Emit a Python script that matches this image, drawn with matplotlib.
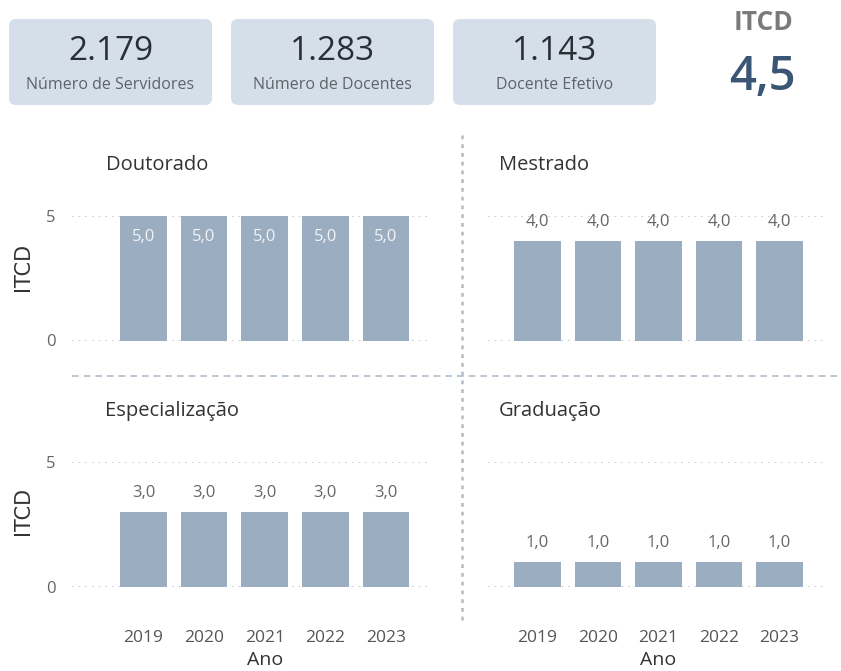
import matplotlib.pyplot as plt
from matplotlib.patches import FancyBboxPatch

# dados
anos = ['2019', '2020', '2021', '2022', '2023']
doutorado = [5.0, 5.0, 5.0, 5.0, 5.0]
mestrado = [4.0, 4.0, 4.0, 4.0, 4.0]
especializacao = [3.0, 3.0, 3.0, 3.0, 3.0]
graduacao = [1.0, 1.0, 1.0, 1.0, 1.0]

kpi_valores = ['2.179', '1.283', '1.143']
kpi_rotulos = ['Número de Servidores', 'Número de Docentes', 'Docente Efetivo']
itcd_geral = '4,5'

W, H = 841, 671
BAR = '#9aadc1'
FONT = 'Open Sans'

plt.rcParams['font.family'] = [FONT, 'DejaVu Sans']

fig = plt.figure(figsize=(W / 100, H / 100), dpi=100)

# camada de fundo em pixels
bg = fig.add_axes([0, 0, 1, 1])
bg.set_xlim(0, W)
bg.set_ylim(H, 0)
bg.axis('off')

card_x = [9, 231, 453]
for x0, val, lab in zip(card_x, kpi_valores, kpi_rotulos):
    bg.add_patch(FancyBboxPatch((x0, 19), 203, 86,
                                boxstyle='round,pad=0,rounding_size=7',
                                fc='#d5dfea', ec='none'))
    bg.text(x0 + 101.5, 51, val, ha='center', va='center', fontsize=24, color='#2a2f36')
    bg.text(x0 + 101.5, 85, lab, ha='center', va='center', fontsize=11.5, color='#5f6368')

bg.text(764, 22, 'ITCD', ha='center', va='center', fontsize=19, fontweight='bold', color='#7a7a7a')
bg.text(762, 77, itcd_geral, ha='center', va='center', fontsize=34, fontweight='semibold', color='#3b5575')

# separadores
bg.plot([72, W], [376, 376], ls=(0, (4, 3)), color='#aebccc', lw=1.2)
bg.plot([462, 462], [135, 620], ls=(0, (1.5, 2)), color='#aebccc', lw=1.8)


def painel(x0, x1, ytop, ybot, c0, step, titulo, tx, ty, valores, dentro, esquerda, baixo):
    ax = fig.add_axes([x0 / W, 1 - ybot / H, (x1 - x0) / W, (ybot - ytop) / H])
    ax.patch.set_alpha(0)
    xs = range(len(valores))
    ax.bar(xs, valores, width=0.77, color=BAR, zorder=2)
    ax.set_xlim((x0 - c0) / step, (x1 - c0) / step)
    ax.set_ylim(0, 5)
    for s in ax.spines.values():
        s.set_visible(False)
    ax.set_yticks([0, 5])
    ax.yaxis.grid(True, ls=(0, (1, 3)), color='#c4c4c4', lw=1.2, zorder=0)
    ax.tick_params(length=0)
    if esquerda:
        ax.set_yticklabels(['0', '5'], fontsize=12, color='#666666')
        ax.tick_params(axis='y', pad=12)
    else:
        ax.set_yticklabels([])
    if baixo:
        ax.set_xticks(list(xs))
        ax.set_xticklabels(anos, fontsize=12.5, color='#555555')
        ax.tick_params(axis='x', pad=31)
    else:
        ax.set_xticks([])
    for x, v in zip(xs, valores):
        txt = f'{v:.1f}'.replace('.', ',')
        if dentro:
            ax.annotate(txt, (x, v), xytext=(0, -15), textcoords='offset points',
                        ha='center', va='center', fontsize=12, color='#f2f4f6')
        else:
            ax.annotate(txt, (x, v), xytext=(0, 13.5), textcoords='offset points',
                        ha='center', va='center', fontsize=12, color='#666666')
    bg.text(tx, ty, titulo, ha='left', va='center', fontsize=14.5, color='#333333')
    return ax


painel(72, 430, 216, 340.5, 143.5, 60.6, 'Doutorado', 106, 165, doutorado, True, True, False)
painel(488, 823, 216, 340.5, 537.5, 60.5, 'Mestrado', 499, 165, mestrado, False, False, False)
painel(72, 430, 462, 587, 143.5, 60.6, 'Especialização', 105, 411, especializacao, False, True, True)
painel(488, 823, 462, 587, 537.5, 60.5, 'Graduação', 499, 411, graduacao, False, False, True)

# rótulos dos eixos
for yc in [267, 511]:
    bg.text(23, yc, 'ITCD', rotation=90, ha='center', va='center', fontsize=15,
            color='#333333', family=['Liberation Sans Narrow', 'DejaVu Sans'])
for xc in [265, 658]:
    bg.text(xc, 660, 'Ano', ha='center', va='center', fontsize=14, color='#333333')

fig.savefig('out.png', dpi=100)
